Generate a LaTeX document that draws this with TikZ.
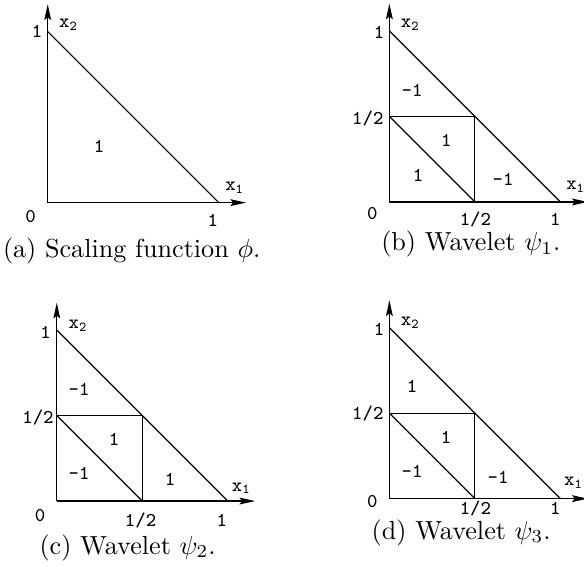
\documentclass[tikz,border=0pt]{standalone}
\usepackage{amsmath}
\usetikzlibrary{arrows.meta}

\begin{document}
\begin{tikzpicture}[>={Stealth[length=6pt,width=2.6pt,inset=1pt]}, x=2.3cm, y=2.3cm,
    lbl/.style={font=\fontsize{7.5}{9}\selectfont\ttfamily, inner sep=0pt},
    capt/.style={anchor=base, inner sep=0pt},
    axis/.style={->, line width=0.5pt},
    edge/.style={line width=0.45pt}]
  \useasboundingbox (0,0) rectangle (3.415,3.310);

  % (a) scaling function on the unit triangle
  \begin{scope}[shift={(0.279,2.125)}]
    \coordinate (a0) at (0,0);
    \coordinate (a1) at (1,0);
    \coordinate (a2) at (0,1);
    \coordinate (aX) at (1.16,0);
    \coordinate (aY) at (0,1.16);
    \draw[axis] (a0) -- (aX);
    \draw[axis] (a0) -- (aY);
    \draw[edge] (a2) -- (a1);
    \node[lbl] (a-o)  at (-0.10,-0.08)  {0};
    \node[lbl] (a-e1) at (0.965,-0.105) {1};
    \node[lbl] (a-e2) at (-0.062,1.0)   {1};
    \node[lbl] (a-x1) at (1.094,0.088)  {x\textsubscript{1}};
    \node[lbl] (a-x2) at (0.123,1.04)   {x\textsubscript{2}};
    \node[lbl] (a-v)  at (0.300,0.326)  {1};
    \node[capt] (a-cap) at (0.491,-0.323) {(a) Scaling function $\phi$.};
  \end{scope}

  % (b) first wavelet
  \begin{scope}[shift={(2.277,2.129)}]
    \coordinate (b0) at (0,0);
    \coordinate (b1) at (1,0);
    \coordinate (b2) at (0,1);
    \coordinate (bh1) at (0.5,0);
    \coordinate (bh2) at (0,0.5);
    \coordinate (bm) at (0.5,0.5);
    \coordinate (bX) at (1.16,0);
    \coordinate (bY) at (0,1.16);
    \draw[axis] (b0) -- (bX);
    \draw[axis] (b0) -- (bY);
    \draw[edge] (b2) -- (b1);
    \draw[edge] (bh2) -- (bm) -- (bh1);
    \draw[edge] (bh2) -- (bh1);
    \node[lbl] (b-o)  at (-0.10,-0.07)  {0};
    \node[lbl] (b-h1) at (0.503,-0.105) {1/2};
    \node[lbl] (b-e1) at (0.970,-0.105) {1};
    \node[lbl] (b-h2) at (-0.126,0.49)  {1/2};
    \node[lbl] (b-e2) at (-0.060,0.99)  {1};
    \node[lbl] (b-x1) at (1.090,0.089)  {x\textsubscript{1}};
    \node[lbl] (b-x2) at (0.123,1.035)  {x\textsubscript{2}};
    \node[lbl] (b-t)  at (0.133,0.655)  {-1};
    \node[lbl] (b-s)  at (0.333,0.362)  {1};
    \node[lbl] (b-l)  at (0.168,0.158)  {1};
    \node[lbl] (b-r)  at (0.665,0.129)  {-1};
    \node[capt] (b-cap) at (0.476,-0.285) {(b) Wavelet $\psi_1$.};
  \end{scope}

  % (c) second wavelet
  \begin{scope}[shift={(0.332,0.380)}]
    \coordinate (c0) at (0,0);
    \coordinate (c1) at (1,0);
    \coordinate (c2) at (0,1);
    \coordinate (ch1) at (0.5,0);
    \coordinate (ch2) at (0,0.5);
    \coordinate (cm) at (0.5,0.5);
    \coordinate (cX) at (1.16,0);
    \coordinate (cY) at (0,1.16);
    \draw[axis] (c0) -- (cX);
    \draw[axis] (c0) -- (cY);
    \draw[edge] (c2) -- (c1);
    \draw[edge] (ch2) -- (cm) -- (ch1);
    \draw[edge] (ch2) -- (ch1);
    \node[lbl] (c-o)  at (-0.098,-0.082) {0};
    \node[lbl] (c-h1) at (0.490,-0.115)  {1/2};
    \node[lbl] (c-e1) at (0.965,-0.115)  {1};
    \node[lbl] (c-h2) at (-0.110,0.487)  {1/2};
    \node[lbl] (c-e2) at (-0.066,0.988)  {1};
    \node[lbl] (c-x1) at (1.080,0.075)   {x\textsubscript{1}};
    \node[lbl] (c-x2) at (0.125,1.025)   {x\textsubscript{2}};
    \node[lbl] (c-t)  at (0.130,0.651)   {-1};
    \node[lbl] (c-s)  at (0.335,0.358)   {1};
    \node[lbl] (c-l)  at (0.130,0.160)   {-1};
    \node[lbl] (c-r)  at (0.663,0.125)   {1};
    \node[capt] (c-cap) at (0.414,-0.310) {(c) Wavelet $\psi_2$.};
  \end{scope}

  % (d) third wavelet
  \begin{scope}[shift={(2.277,0.394)}]
    \coordinate (d0) at (0,0);
    \coordinate (d1) at (1,0);
    \coordinate (d2) at (0,1);
    \coordinate (dh1) at (0.5,0);
    \coordinate (dh2) at (0,0.5);
    \coordinate (dm) at (0.5,0.5);
    \coordinate (dX) at (1.16,0);
    \coordinate (dY) at (0,1.16);
    \draw[axis] (d0) -- (dX);
    \draw[axis] (d0) -- (dY);
    \draw[edge] (d2) -- (d1);
    \draw[edge] (dh2) -- (dm) -- (dh1);
    \draw[edge] (dh2) -- (dh1);
    \node[lbl] (d-o)  at (-0.10,-0.016)  {0};
    \node[lbl] (d-h1) at (0.503,-0.055)  {1/2};
    \node[lbl] (d-e1) at (0.970,-0.055)  {1};
    \node[lbl] (d-h2) at (-0.126,0.495)  {1/2};
    \node[lbl] (d-e2) at (-0.060,0.988)  {1};
    \node[lbl] (d-x1) at (1.078,0.092)   {x\textsubscript{1}};
    \node[lbl] (d-x2) at (0.123,1.027)   {x\textsubscript{2}};
    \node[lbl] (d-t)  at (0.133,0.657)   {1};
    \node[lbl] (d-s)  at (0.332,0.361)   {1};
    \node[lbl] (d-l)  at (0.133,0.160)   {-1};
    \node[lbl] (d-r)  at (0.636,0.125)   {-1};
    \node[capt] (d-cap) at (0.420,-0.236) {(d) Wavelet $\psi_3$.};
  \end{scope}
\end{tikzpicture}
\end{document}
